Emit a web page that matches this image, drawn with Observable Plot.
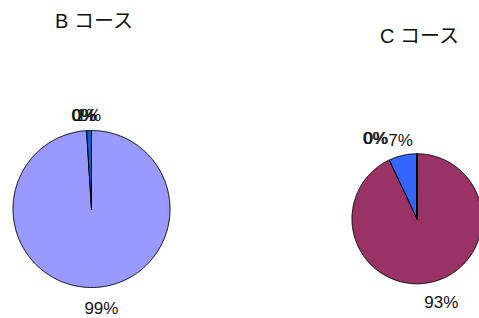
<!DOCTYPE html>
<html><head><meta charset="utf-8">
<script src="https://cdn.jsdelivr.net/npm/d3@7"></script>
<script src="https://cdn.jsdelivr.net/npm/@observablehq/plot@0.6"></script>
<style>
body{margin:0;background:#fff}
#chart{width:479px;height:318px;overflow:hidden}
</style>
</head><body><div id="chart"></div>
<script>
// ---- data ----
const categories = ["回答1", "回答2", "回答3", "回答4"];
const courses = ["B コース", "C コース"];
const bPercents = [99, 1, 0, 0];
const cPercents = [93, 7, 0, 0];

// ---- styles / layout (kept apart from the data) ----
const palettes = [
  ["#9999FF", "#0A62C8", "#FFFFCC", "#CCFFFF"],
  ["#993366", "#3366FF", "#FFFFCC", "#CCFFFF"]
];
const layout = [
  {cx: 91, cy: 208.5, r: 78.5, titleX: 93.5, titleY: 27, zeroDx: -8},
  {cx: 416.5, cy: 218.3, r: 65, titleX: 419, titleY: 42, zeroDx: -42}
];
const W = 479, H = 318;
const FONT = "'Liberation Sans', 'Noto Sans CJK JP', sans-serif";

const series = [bPercents, cPercents];
const slices = [], labels = [], titles = [];
series.forEach((vals, p) => {
  const L = layout[p];
  titles.push({text: courses[p], x: L.titleX, y: L.titleY});
  const arcs = d3.pie().sort(null)(vals);
  arcs.forEach((a, i) => {
    const key = p + ":" + categories[i];
    const pts = [[L.cx, L.cy]];
    const n = Math.max(1, Math.ceil((a.endAngle - a.startAngle) / 0.01));
    for (let k = 0; k <= n; k++) {
      const t = a.startAngle + (a.endAngle - a.startAngle) * k / n;
      pts.push([L.cx + L.r * Math.sin(t), L.cy - L.r * Math.cos(t)]);
    }
    pts.push([L.cx, L.cy]);
    pts.forEach(([x, y]) => slices.push({key, x, y, color: palettes[p][i]}));
    const mid = (a.startAngle + a.endAngle) / 2;
    const lower = Math.cos(mid) < 0;
    const d = L.r + (lower ? 14 : 10);
    labels.push({
      text: vals[i] + "%",
      x: L.cx + d * Math.sin(mid) + (lower ? 7 : 0) + (vals[i] === 0 ? L.zeroDx + (i === 3 ? 1 : 0) : 0),
      y: L.cy - d * Math.cos(mid),
      lower
    });
  });
});

const chart = Plot.plot({
  width: W, height: H,
  margin: 0,
  x: {domain: [0, W], range: [0, W], axis: null},
  y: {domain: [0, H], range: [0, H], axis: null},
  color: {type: "identity"},
  style: {fontFamily: FONT, background: "#fff"},
  marks: [
    Plot.line(slices, {x: "x", y: "y", z: "key", fill: "color", stroke: "#000", strokeWidth: 1, strokeLinejoin: "round", curve: "linear"}),
    Plot.text(labels.filter(d => d.lower), {x: "x", y: "y", text: "text", lineAnchor: "top", fontSize: 17, fill: "#111", fontFamily: FONT}),
    Plot.text(labels.filter(d => !d.lower), {x: "x", y: "y", text: "text", lineAnchor: "bottom", fontSize: 17, fill: "#111", fontFamily: FONT}),
    Plot.text(titles, {x: "x", y: "y", text: "text", lineAnchor: "bottom", fontSize: 20, fill: "#111", fontFamily: FONT})
  ]
});
document.getElementById("chart").appendChild(chart);
</script>
</body></html>
